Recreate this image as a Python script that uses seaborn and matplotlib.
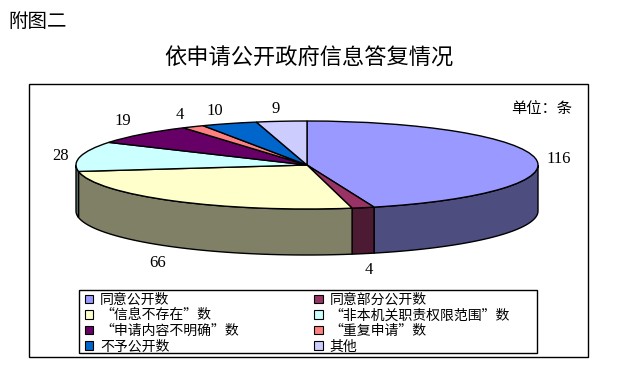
import numpy as np
import matplotlib
matplotlib.use('Agg')
import matplotlib.pyplot as plt
import seaborn as sns
from matplotlib.patches import Patch, Rectangle

# Data
categories = ['同意公开数', '同意部分公开数', '“信息不存在”数', '“非本机关职责权限范围”数',
              '“申请内容不明确”数', '“重复申请”数', '不予公开数', '其他']
values = [116, 4, 66, 28, 19, 4, 10, 9]
top_colors = ['#9999FF', '#993366', '#FFFFCC', '#CCFFFF', '#660066', '#FF8080', '#0066CC', '#CCCCFF']

sns.set_theme(style='white')
plt.rcParams['font.family'] = ['Noto Sans CJK SC', 'DejaVu Sans']
plt.rcParams['text.color'] = 'black'

W, H = 620, 380
CX, CY, RX, RY, DEPTH = 307, 165, 231, 44, 46

fig = plt.figure(figsize=(W / 100, H / 100), dpi=100, facecolor='white')
ax = fig.add_axes([0, 0, 1, 1])
palette = sns.color_palette(top_colors)

# Flat pie, squashed into an ellipse by the axis limits below
wedges, _ = ax.pie(values, colors=palette, startangle=90, counterclock=False,
                   wedgeprops={'edgecolor': 'black', 'linewidth': 1.0, 'zorder': 3})
ax.set_aspect('auto')
ax.set_xlim(-CX / RX, (W - CX) / RX)
ax.set_ylim((CY - H) / RY, CY / RY)
ax.axis('off')

# Side wall of the front half, in the darker shade of each slice
edges = np.concatenate([[0], np.cumsum(values)]) / sum(values) * 360
depth = DEPTH / RY
for i, col in enumerate(palette):
    lo, hi = max(edges[i], 90), min(edges[i + 1], 270)
    if lo >= hi:
        continue
    t = np.radians(np.linspace(lo, hi, 60))
    x, y = np.sin(t), np.cos(t)
    dark = tuple(c * 0.5 for c in col)
    ax.fill(np.r_[x, x[::-1]], np.r_[y, y[::-1] - depth], facecolor=dark,
            edgecolor='black', linewidth=1.0, zorder=2)

# Value labels, offset in pixels from the rim point of each slice
label_offsets = [(23, 0), (6, -62), (-16, -62), (-20, 0), (-19, 13), (-13, 12), (-14, 13), (-6, 12)]
mid = np.radians((edges[:-1] + edges[1:]) / 2)
for v, t, off in zip(values, mid, label_offsets):
    ax.annotate(str(v), (np.sin(t), np.cos(t)), xytext=off, textcoords='offset pixels',
                ha='center', va='center', fontsize=12, family='Liberation Serif',
                color='black', zorder=5)

# Chart frame and legend frame
fig.add_artist(Rectangle((29 / W, 1 - 357 / H), 559 / W, 273 / H, transform=fig.transFigure,
                         fill=False, edgecolor='black', linewidth=1.0))
fig.add_artist(Rectangle((79 / W, 1 - 353 / H), 458 / W, 63 / H, transform=fig.transFigure,
                         fill=False, edgecolor='black', linewidth=1.0))

fig.text(8 / W, 1 - 21 / H, '附图二', fontsize=14, va='center', ha='left')
fig.text(309 / W, 1 - 58 / H, '依申请公开政府信息答复情况', fontsize=16, va='center', ha='center')
fig.text(572 / W, 1 - 109 / H, '单位：条', fontsize=11, va='center', ha='right')

# Legend reads across the rows, so hand it over column by column
handles = [Patch(facecolor=c, edgecolor='black', linewidth=0.8) for c in palette]
order = [0, 2, 4, 6, 1, 3, 5, 7]
leg = ax.legend([handles[i] for i in order], [categories[i] for i in order], ncol=2,
                loc='lower left', bbox_to_anchor=(85 / W, 1 - 353.5 / H), bbox_transform=fig.transFigure,
                fontsize=10, frameon=False, borderaxespad=0, borderpad=0.0, labelspacing=0.11,
                handlelength=0.58, handleheight=0.58, handletextpad=0.5, columnspacing=5.45)
leg.set_zorder(6)

fig.savefig('out.png', dpi=100, facecolor='white')
